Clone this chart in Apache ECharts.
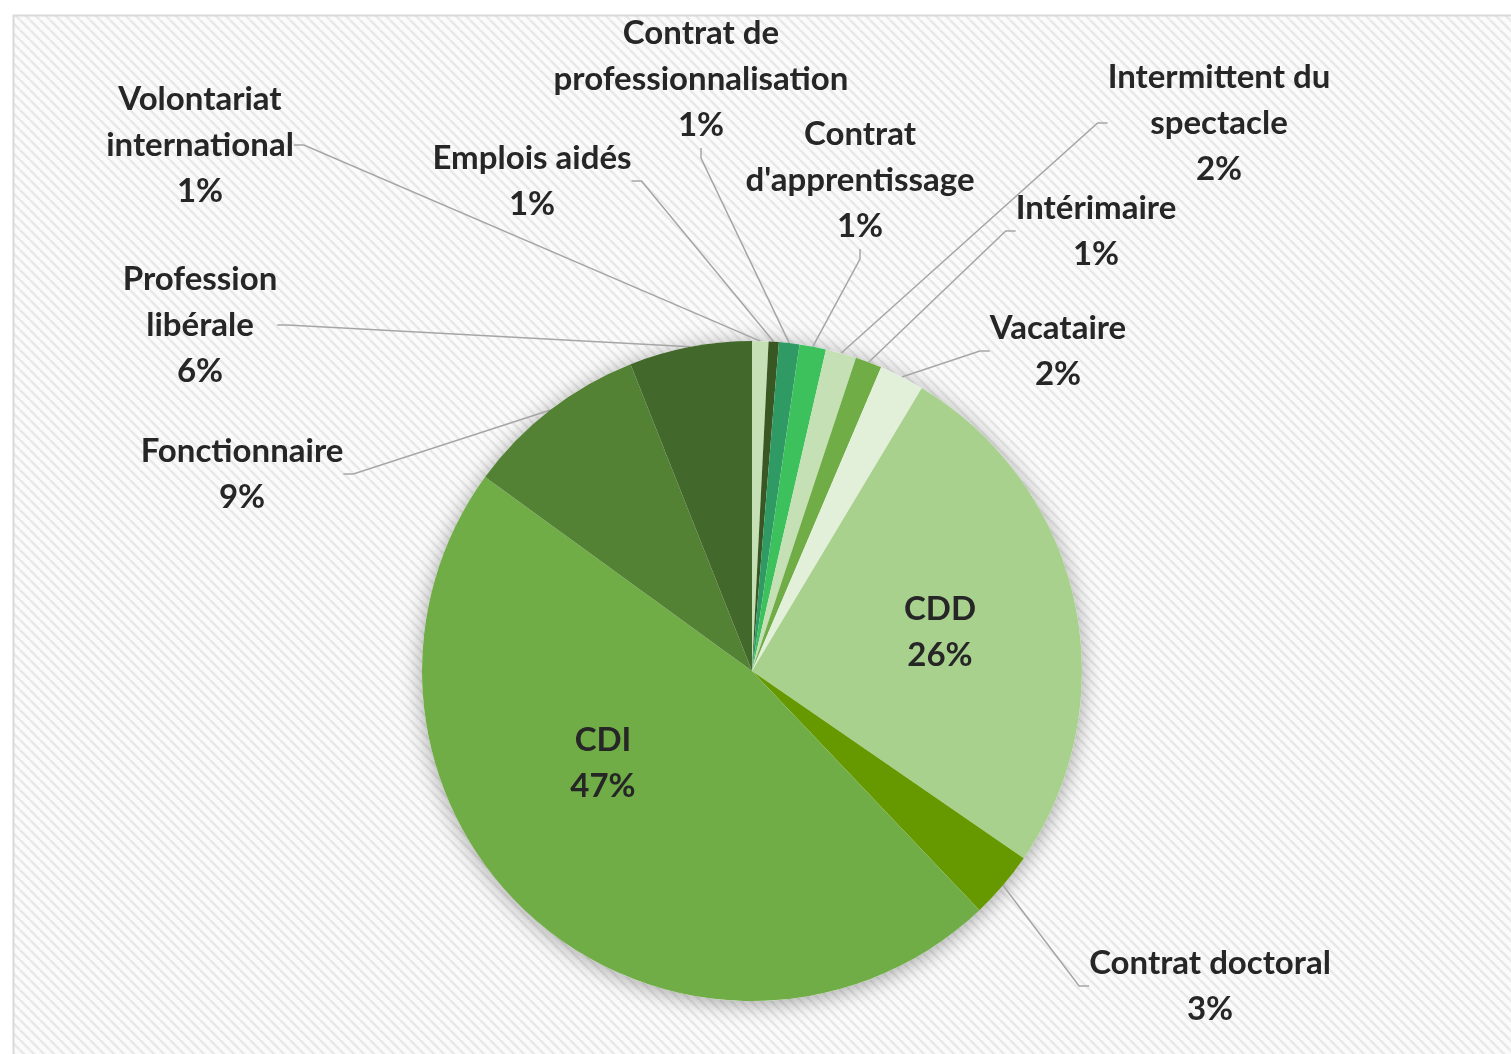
<!DOCTYPE html>
<html>
<head>
<meta charset="utf-8">
<script src="https://cdn.jsdelivr.net/npm/echarts@6/dist/echarts.min.js"></script>
<style>
html,body{margin:0;padding:0;background:#fff;}
#main{width:1511px;height:1054px;}
</style>
</head>
<body>
<div id="main"></div>
<script>
// categories in the order they appear clockwise from 12 o'clock
var categories = ['Volontariat international', 'Emplois aidés', 'Contrat de professionnalisation',
	"Contrat d'apprentissage", 'Intermittent du spectacle', 'Intérimaire', 'Vacataire',
	'CDD', 'Contrat doctoral', 'CDI', 'Fonctionnaire', 'Profession libérale'];
// share of each contract type (%)
var shares = [0.8, 0.5, 1.0, 1.3, 1.5, 1.3, 2.2, 26, 3.3, 47.1, 9, 6];
// label text as it is broken over lines
var labelNames = ['Volontariat\ninternational', 'Emplois aidés', 'Contrat de\nprofessionnalisation',
	"Contrat\nd'apprentissage", 'Intermittent du\nspectacle', 'Intérimaire', 'Vacataire',
	'CDD', 'Contrat doctoral', 'CDI', 'Fonctionnaire', 'Profession\nlibérale'];

var colors = ['#c5e0b4', '#385723', '#2f9a63', '#3dc15c', '#c5e0b4', '#70ad47', '#e2f0d9',
	'#a9d18e', '#669900', '#70ad47', '#548235', '#43682b'];
// label centres (layout only)
var labelPos = [[200,145],[532,181],[701,79],[860,180],[1219,123],[1096,231],[1058,351],
	[940,632],[1210,986],[603,763],[242,474],[200,325]];
var insideIdx = [7, 9];

// striped background
var cv = document.createElement('canvas');
cv.width = 10; cv.height = 10;
var cx = cv.getContext('2d');
cx.fillStyle = '#fbfbfb';
cx.fillRect(0, 0, 10, 10);
cx.strokeStyle = '#e8e8e8';
cx.lineWidth = 2.6;
for (var k = -1; k <= 1; k++) {
	cx.beginPath();
	cx.moveTo(k * 10, 0);
	cx.lineTo(k * 10 + 10, 10);
	cx.stroke();
}

var dom = document.getElementById('main');
var myChart = echarts.init(dom);

var data = [];
for (var i = 0; i < categories.length; i++) {
	var item = {name: categories[i], value: shares[i], itemStyle: {color: colors[i]}};
	if (insideIdx.indexOf(i) >= 0) {
		item.labelLine = {show: false};
	}
	data.push(item);
}

var option = {
	animation: false,
	graphic: [{
		type: 'rect',
		z: -10,
		shape: {x: 13.5, y: 15.5, width: 1520, height: 1060},
		style: {fill: {image: cv, repeat: 'repeat'}, stroke: '#d9d9d9', lineWidth: 2}
	}],
	series: [{
		// shadow disc behind the pie
		type: 'pie',
		silent: true,
		center: [752, 671],
		radius: 330,
		z: 1,
		label: {show: false},
		labelLine: {show: false},
		itemStyle: {color: '#ffffff', shadowBlur: 22, shadowColor: 'rgba(0,0,0,0.35)', shadowOffsetY: 3},
		data: [1]
	}, {
		type: 'pie',
		center: [752, 671],
		radius: 330,
		startAngle: 90,
		clockwise: true,
		z: 2,
		avoidLabelOverlap: false,
		itemStyle: {borderWidth: 0},
		label: {
			show: true,
			fontFamily: 'Lato',
			fontWeight: 'bold',
			fontSize: 33,
			lineHeight: 46,
			color: '#262626',
			align: 'center',
			formatter: function(p) {
				return labelNames[p.dataIndex] + '\n' + Math.round(p.percent) + '%';
			}
		},
		labelLine: {
			show: true,
			length: 20,
			length2: 10,
			lineStyle: {color: '#a6a6a6', width: 1.5}
		},
		labelLayout: function(p) {
			var pos = labelPos[p.dataIndex];
			return {x: pos[0], y: pos[1], align: 'center', verticalAlign: 'middle'};
		},
		data: data
	}]
};

if (option && typeof option === "object") {
	myChart.setOption(option, true);
}
</script>
</body>
</html>
